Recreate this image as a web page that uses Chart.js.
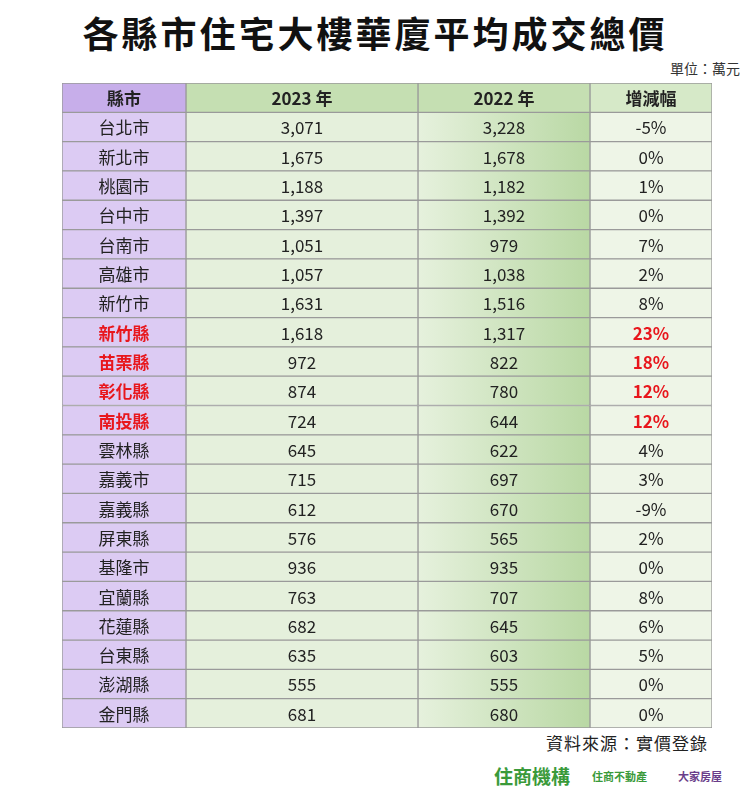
<!DOCTYPE html>
<html>
<head>
<meta charset="utf-8">
<script src="https://cdn.jsdelivr.net/npm/chart.js@4"></script>
<style>
  body { margin: 0; background: #fff; font-family: "Noto Sans CJK TC", sans-serif; }
  #wrap { position: relative; width: 750px; height: 793px; }
  #title { position: absolute; top: 6px; left: 0; width: 750px; text-align: center; font-size: 36px; font-weight: bold; letter-spacing: 3px; color: #111; }
  #unit { position: absolute; top: 58px; right: 10px; font-size: 14px; color: #333; }
  #box { position: absolute; left: 62px; top: 83px; width: 650px; height: 645px; }
  #src { position: absolute; top: 730px; right: 42px; font-size: 17px; color: #222; letter-spacing: 1px; }
  #logo1 { position: absolute; top: 762px; left: 494px; font-size: 19px; font-weight: bold; color: #3a9a3a; }
  #logo2 { position: absolute; top: 768px; left: 592px; font-size: 11px; font-weight: bold; color: #3a9a3a; }
  #logo3 { position: absolute; top: 768px; left: 678px; font-size: 11px; font-weight: bold; color: #6a3d8a; }
</style>
</head>
<body>
<div id="wrap">
  <div id="title">各縣市住宅大樓華廈平均成交總價</div>
  <div id="unit">單位：萬元</div>
  <div id="box"><canvas id="c"></canvas></div>
  <div id="src">資料來源：實價登錄</div>
  <div id="logo1">住商機構</div>
  <div id="logo2">住商不動產</div>
  <div id="logo3">大家房屋</div>
</div>
<script>
const headers = ["縣市", "2023 年", "2022 年", "增減幅"];
const counties = ["台北市","新北市","桃園市","台中市","台南市","高雄市","新竹市","新竹縣","苗栗縣","彰化縣","南投縣","雲林縣","嘉義市","嘉義縣","屏東縣","基隆市","宜蘭縣","花蓮縣","台東縣","澎湖縣","金門縣"];
const v2023 = [3071,1675,1188,1397,1051,1057,1631,1618,972,874,724,645,715,612,576,936,763,682,635,555,681];
const v2022 = [3228,1678,1182,1392,979,1038,1516,1317,822,780,644,622,697,670,565,935,707,645,603,555,680];
const changes = ["-5%","0%","1%","0%","7%","2%","8%","23%","18%","12%","12%","4%","3%","-9%","2%","0%","8%","6%","5%","0%","0%"];
const highlight = ["新竹縣","苗栗縣","彰化縣","南投縣"];

// column edges in table units
const edges = [0, 124, 356, 528, 650];
const rows = ["header", ...counties];

function colData(i) { return rows.map(() => [edges[i], edges[i + 1]]); }
function colColors(head, body) { return rows.map((r, k) => k === 0 ? head : body); }

const texts = [
  [headers[0], ...counties],
  [headers[1], ...v2023.map(v => v.toLocaleString("en-US"))],
  [headers[2], ...v2022.map(v => v.toLocaleString("en-US"))],
  [headers[3], ...changes]
];

const ctx = document.getElementById("c");
const grad = (c) => {
  const { ctx: g, chartArea } = c.chart;
  if (!chartArea) return "#d3e7c4";
  const x0 = c.chart.scales.x.getPixelForValue(edges[2]);
  const x1 = c.chart.scales.x.getPixelForValue(edges[3]);
  const gr = g.createLinearGradient(x0, 0, x1, 0);
  gr.addColorStop(0, "#e6f1dd");
  gr.addColorStop(1, "#b9d8a4");
  return c.dataIndex === 0 ? "#c5dfb2" : gr;
};

const tablePlugin = {
  id: "tableText",
  afterDatasetsDraw(chart) {
    const g = chart.ctx;
    g.save();
    g.textAlign = "center";
    g.textBaseline = "middle";
    chart.data.datasets.forEach((ds, di) => {
      chart.getDatasetMeta(di).data.forEach((bar, ri) => {
        const name = rows[ri];
        const red = highlight.includes(name) && (di === 0 || di === 3);
        const bold = ri === 0 || red;
        g.fillStyle = red ? "#e8161c" : "#222";
        g.font = (bold ? "bold " : "") + "17px 'Noto Sans CJK TC'";
        let x = bar.x - (bar.x - bar.base) / 2;
        g.fillText(texts[di][ri], x, bar.y + 1);
      });
    });
    g.restore();
  }
};

new Chart(ctx, {
  type: "bar",
  data: {
    labels: rows,
    datasets: [
      { data: colData(0), backgroundColor: colColors("#c7aeea", "#dccbf3") },
      { data: colData(1), backgroundColor: colColors("#c5dfb2", "#e5f0dc") },
      { data: colData(2), backgroundColor: grad },
      { data: colData(3), backgroundColor: colColors("#d6e9c8", "#eef5e7") }
    ].map(d => Object.assign(d, { borderColor: "#9a9a9a", borderWidth: 1, borderSkipped: false, barPercentage: 1, categoryPercentage: 1, grouped: false }))
  },
  options: {
    indexAxis: "y",
    responsive: true,
    maintainAspectRatio: false,
    animation: false,
    layout: { padding: 0 },
    plugins: { legend: { display: false }, tooltip: { enabled: false } },
    scales: {
      x: { display: false, min: 0, max: 650 },
      y: { display: false }
    }
  },
  plugins: [tablePlugin]
});
</script>
</body>
</html>
